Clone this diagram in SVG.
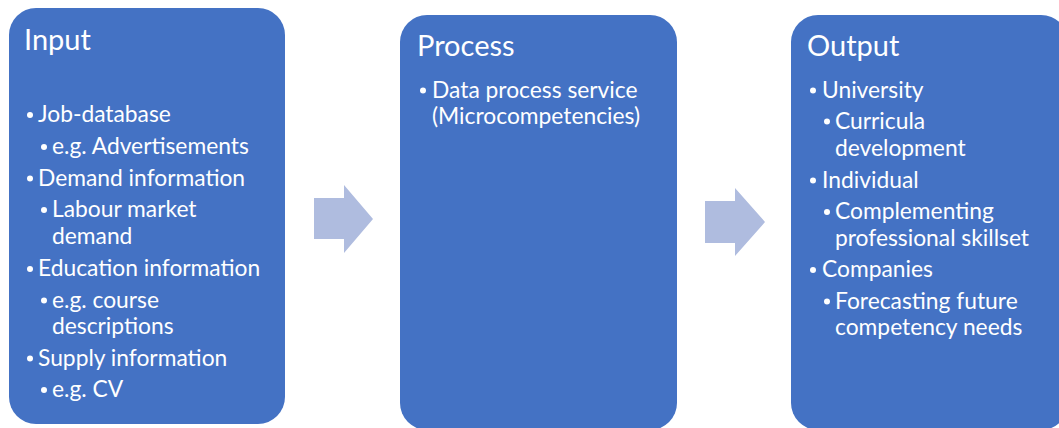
<svg xmlns="http://www.w3.org/2000/svg" width="1059" height="428" viewBox="0 0 1059 428">
  <style>
    .box { fill: #4472C4; }
    .arrow { fill: #AFBCDF; }
    text { font-family: Lato, "Noto Sans", "Liberation Sans", sans-serif; fill: #FFFFFF; }
    .title { font-size: 29px; }
    .item { font-size: 22.8px; }
    .dot { fill: #FFFFFF; }
  </style>
  <rect width="1059" height="428" fill="#FFFFFF"/>
  <g id="connectors">
    <polygon class="arrow" points="314,198 344,198 344,185 373,219 344,253 344,239 314,239"/>
    <polygon class="arrow" points="705,201 735,201 735,188 765,222 735,256 735,243 705,243"/>
  </g>
  <g id="input">
    <rect class="box" x="9" y="8" width="276" height="416" rx="27" ry="27"/>
    <text class="title" x="24" y="50">Input</text>
    <circle class="dot" cx="30" cy="115" r="3"/>
    <text class="item" x="38" y="122">Job-database</text>
    <circle class="dot" cx="44" cy="147" r="3"/>
    <text class="item" x="52" y="154">e.g. Advertisements</text>
    <circle class="dot" cx="30" cy="178.5" r="3"/>
    <text class="item" x="38" y="185.5">Demand information</text>
    <circle class="dot" cx="44" cy="210" r="3"/>
    <text class="item" x="52" y="217">Labour market</text>
    <text class="item" x="52" y="243.5">demand</text>
    <circle class="dot" cx="30" cy="269" r="3"/>
    <text class="item" x="38" y="276">Education information</text>
    <circle class="dot" cx="44" cy="300.5" r="3"/>
    <text class="item" x="52" y="307.5">e.g. course</text>
    <text class="item" x="52" y="334">descriptions</text>
    <circle class="dot" cx="30" cy="358.5" r="3"/>
    <text class="item" x="38" y="365.5">Supply information</text>
    <circle class="dot" cx="44" cy="390" r="3"/>
    <text class="item" x="52" y="397">e.g. CV</text>
  </g>
  <g id="process">
    <rect class="box" x="400" y="15" width="277" height="415" rx="27" ry="27"/>
    <text class="title" x="417" y="56">Process</text>
    <circle class="dot" cx="423" cy="90.5" r="3"/>
    <text class="item" x="432" y="97.5">Data process service</text>
    <text class="item" x="432" y="124">(Microcompetencies)</text>
  </g>
  <g id="output">
    <rect class="box" x="791" y="15" width="277" height="415" rx="27" ry="27"/>
    <text class="title" x="807" y="56">Output</text>
    <circle class="dot" cx="813" cy="90.5" r="3"/>
    <text class="item" x="822" y="97.5">University</text>
    <circle class="dot" cx="827" cy="121.5" r="3"/>
    <text class="item" x="835" y="128.5">Curricula</text>
    <text class="item" x="835" y="155.5">development</text>
    <circle class="dot" cx="813" cy="180.5" r="3"/>
    <text class="item" x="822" y="187.5">Individual</text>
    <circle class="dot" cx="827" cy="212" r="3"/>
    <text class="item" x="835" y="219">Complementing</text>
    <text class="item" x="835" y="245.5">professional skillset</text>
    <circle class="dot" cx="813" cy="270" r="3"/>
    <text class="item" x="822" y="277">Companies</text>
    <circle class="dot" cx="827" cy="301.5" r="3"/>
    <text class="item" x="835" y="308.5">Forecasting future</text>
    <text class="item" x="835" y="335">competency needs</text>
  </g>
</svg>
